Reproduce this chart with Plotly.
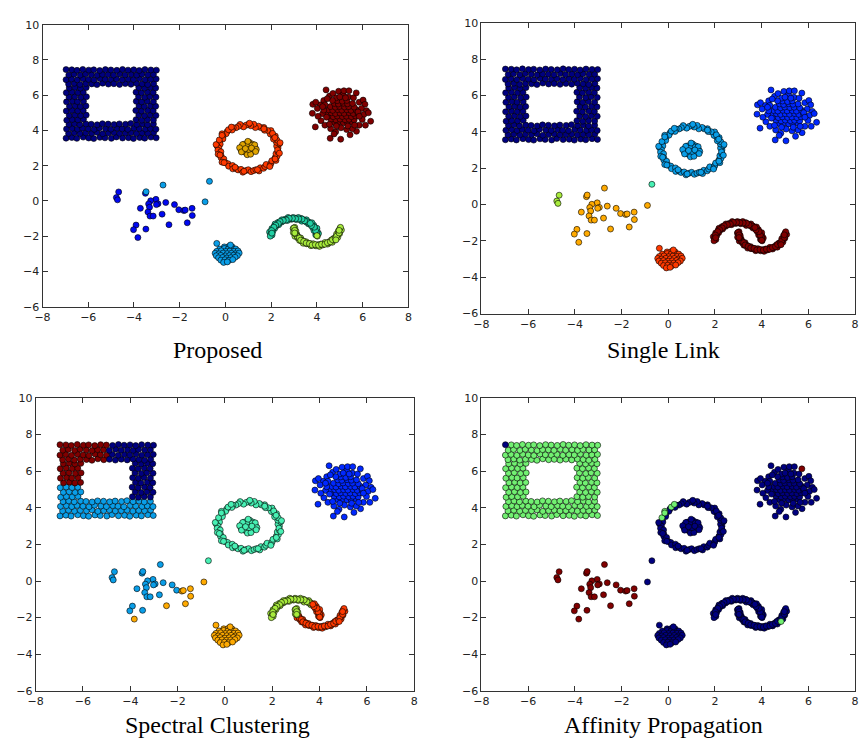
import plotly.graph_objects as go

# ---------------- data ----------------
# hollow square, split in parts (the panels colour the parts differently)
SQ_BOT_X = [-6.97,-6.72,-6.50,-6.22,-5.98,-5.76,-5.49,-5.27,-4.99,-4.77,-4.50,-4.24,-4.02,-3.75,-3.53,-3.26,-3.03,
            -6.86,-6.61,-6.36,-6.11,-5.85,-5.62,-5.37,-5.12,-4.88,-4.63,-4.38,-4.13,-3.89,-3.64,-3.40,-3.14,
            -6.95,-6.70,-6.47,-6.25,-6.00,-5.74,-5.51,-5.24,-5.01,-4.74,-4.52,-4.27,-4.00,-3.77,-3.50,-3.28,-3.04,
            -6.84,-6.60,-6.37,-6.10,-5.87,-5.61,-5.38,-5.13,-4.87,-4.64,-4.37,-4.14,-3.88,-3.63,-3.41,-3.15]
SQ_BOT_Y = [3.56,3.60,3.55,3.62,3.57,3.54,3.61,3.58,3.55,3.63,3.57,3.59,3.54,3.60,3.56,3.62,3.58,
            3.83,3.87,3.82,3.86,3.84,3.89,3.81,3.85,3.88,3.83,3.85,3.87,3.82,3.86,3.84,3.88,
            4.08,4.12,4.07,4.13,4.09,4.06,4.14,4.10,4.07,4.12,4.09,4.06,4.13,4.10,4.08,4.11,4.07,
            4.34,4.38,4.33,4.37,4.35,4.32,4.38,4.36,4.33,4.37,4.35,4.39,4.34,4.37,4.32,4.36]
SQ_LLO_X = [-6.94,-6.70,-6.45,-6.21,-6.83,-6.58,-6.33,-6.09,-6.96,-6.71,-6.46,-6.22]
SQ_LLO_Y = [4.58,4.62,4.60,4.63,4.85,4.88,4.84,4.87,5.10,5.14,5.11,5.13]
SQ_LUP_X = [-6.82,-6.57,-6.34,-6.10,-6.95,-6.69,-6.47,-6.21,-6.84,-6.59,-6.32,-6.08,
            -6.96,-6.71,-6.45,-6.22,-6.83,-6.58,-6.34,-6.09]
SQ_LUP_Y = [5.37,5.40,5.36,5.39,5.62,5.66,5.63,5.65,5.89,5.92,5.88,5.91,
            6.14,6.18,6.15,6.17,6.41,6.44,6.40,6.43]
SQ_R_X = [-3.91,-3.66,-3.41,-3.15,-3.79,-3.54,-3.29,-3.04,-3.92,-3.67,-3.40,-3.16,-3.78,-3.55,-3.28,-3.05,
          -3.90,-3.66,-3.42,-3.15,-3.80,-3.53,-3.30,-3.04,-3.91,-3.67,-3.41,-3.16,-3.79,-3.54,-3.28,-3.05]
SQ_R_Y = [4.61,4.58,4.62,4.59,4.87,4.84,4.88,4.85,5.13,5.10,5.14,5.11,5.39,5.36,5.40,5.37,
          5.65,5.62,5.66,5.63,5.91,5.88,5.92,5.89,6.17,6.14,6.18,6.15,6.43,6.40,6.44,6.41]
SQ_TL_X = [-6.86,-6.61,-6.36,-6.11,-5.85,-5.62,-5.37,-5.12,
           -6.97,-6.73,-6.48,-6.23,-5.99,-5.75,-5.49,-5.26,-5.00,
           -6.85,-6.62,-6.35,-6.12,-5.86,-5.61,-5.38,-5.13,
           -6.72,-6.49,-6.24,-5.98,-5.76,-5.50,-5.25,-5.01]
SQ_TL_Y = [6.63,6.67,6.61,6.66,6.64,6.60,6.68,6.63,
           6.88,6.92,6.87,6.93,6.89,6.86,6.94,6.90,6.88,
           7.15,7.19,7.14,7.20,7.16,7.13,7.18,7.17,
           7.44,7.41,7.46,7.42,7.44,7.40,7.45,7.43]
SQ_TR_X = [-4.88,-4.63,-4.38,-4.13,-3.89,-3.64,-3.40,-3.14,
           -4.76,-4.51,-4.25,-4.02,-3.76,-3.51,-3.27,-3.03,
           -4.89,-4.62,-4.39,-4.12,-3.88,-3.65,-3.39,-3.15,
           -4.75,-4.50,-4.26,-4.01,-3.77,-3.52,-3.26,-3.02]
SQ_TR_Y = [6.65,6.61,6.66,6.62,6.67,6.64,6.60,6.65,
           6.92,6.87,6.91,6.89,6.94,6.88,6.90,6.92,
           7.14,7.20,7.15,7.18,7.14,7.19,7.16,7.17,
           7.41,7.46,7.42,7.44,7.40,7.45,7.43,7.42]
SQ_CORNER_X = [-6.97]
SQ_CORNER_Y = [7.45]

# gaussian blob around (5, 5)
BLOB_X = [4.76,4.94,5.16,5.33,5.56, 4.61,4.83,5.01,5.23,5.41,5.63, 4.49,4.71,4.89,5.11,5.29,5.51,5.69,
          4.44,4.63,4.81,5.01,5.19,5.41,5.59,5.79, 4.51,4.69,4.91,5.09,5.31,5.49,5.71,
          4.59,4.81,4.99,5.21,5.39,5.63, 4.76,4.94,5.16,5.34,5.56, 4.89,5.11,5.31,
          4.15,4.02,3.82,3.80,3.93,4.25,4.18,4.30,4.40,4.55,4.70,4.85,4.95,5.15,5.18,5.40,5.38,5.60,5.85,6.02,
          6.10,5.95,6.17,6.05,5.98,6.35,6.12,5.85,5.73,5.55,5.30,5.05,5.04,4.82,4.58,4.60,4.35,4.42,4.30,4.05,
          3.95,4.75,5.45,6.25,5.80,4.68,
          4.35,4.45,5.85,5.00,5.25,4.55,4.85,5.35,5.65,4.25]
BLOB_Y = [4.44,4.47,4.43,4.46,4.45, 4.63,4.60,4.64,4.61,4.63,4.60, 4.81,4.78,4.82,4.79,4.81,4.78,4.82,
          4.97,5.00,4.96,4.99,4.97,5.00,4.96,4.99, 5.17,5.14,5.18,5.15,5.17,5.14,5.18,
          5.35,5.32,5.36,5.33,5.35,5.32, 5.53,5.50,5.54,5.51,5.53, 5.69,5.66,5.70,
          5.45,5.25,5.48,4.97,4.20,4.95,4.55,5.70,6.30,5.95,6.10,5.85,6.22,6.05,6.25,6.25,5.90,5.85,5.60,5.72,
          5.48,5.25,5.12,4.90,4.62,4.52,4.30,4.30,3.95,4.10,4.05,4.15,3.50,3.92,3.55,4.10,4.30,4.75,5.15,4.80,
          5.60,3.80,3.75,5.00,5.05,5.70,
          5.45,5.80,4.80,5.90,5.85,4.35,4.25,4.25,4.30,5.35]
BLOB_MARK_X = [5.72]
BLOB_MARK_Y = [6.13]

# ring around (1, 3)
RING_X = [2.30,2.24,2.36,2.23,2.25,2.10,2.18,2.06,1.96,1.99,1.84,1.71,1.68,1.54,1.45,1.31,1.24,1.11,1.00,0.89,
          0.79,0.64,0.56,0.46,0.34,0.29,0.07,0.03,-0.11,-0.11,-0.26,-0.23,-0.37,-0.29,-0.33,-0.20,-0.32,-0.19,-0.19,-0.07,
          -0.15,0.00,0.11,0.14,0.31,0.32,0.46,0.55,0.68,0.76,0.89,1.00,1.12,1.23,1.33,1.47,1.52,1.67,1.73,1.78,
          1.96,2.00,2.03,2.21,2.17,2.26,2.21,2.30,2.28,
          2.39,2.06,1.68,1.05,-0.41,-0.24,-0.06,0.42,0.81,1.40,1.94,2.17,2.36,2.16]
RING_Y = [3.00,3.11,3.24,3.33,3.45,3.51,3.68,3.74,3.80,3.99,4.00,4.01,4.17,4.16,4.24,4.16,4.35,4.26,4.34,4.29,
          4.20,4.34,4.22,4.15,4.15,4.02,3.93,3.81,3.64,3.52,3.34,3.22,3.12,3.00,2.88,2.79,2.65,2.57,2.45,2.38,
          2.20,2.16,2.11,1.97,2.01,1.82,1.84,1.76,1.79,1.63,1.72,1.77,1.66,1.72,1.77,1.70,1.88,1.85,1.95,2.07,
          2.04,2.16,2.28,2.30,2.45,2.54,2.68,2.77,2.89,
          3.30,3.83,4.09,4.41,3.20,2.60,2.17,1.91,1.68,1.77,1.95,2.38,2.71,3.59]
RING_NW_X = [0.13,-0.15,-0.27,0.26,-0.15]
RING_NW_Y = [4.04,3.81,3.46,4.19,3.72]

# small dense blob inside the ring
INNER_X = [0.98,1.10,0.85,1.02,0.90,1.15,0.78,1.22,0.95,1.08,0.82,1.25,0.72,1.05,0.88,1.18,0.68,1.30,
           1.00,0.80,1.12,0.92,1.20,0.75,1.28,0.62,1.35,0.95,1.10,0.70,1.02,0.87,1.14,0.98,1.32]
INNER_Y = [3.00,3.05,3.08,3.18,2.88,2.90,2.95,3.10,3.25,2.78,3.22,2.95,3.10,3.32,2.75,3.22,2.90,3.02,
           2.68,2.80,3.15,3.12,2.82,3.20,3.18,3.02,2.92,2.62,2.65,2.78,2.92,2.97,3.00,3.38,2.80]

# small blob around (0, -3)
SMALL_X = [-0.05,0.15,0.30, -0.25,-0.05,0.12,0.28,0.45, -0.38,-0.18,0.02,0.20,0.38,0.55,
           -0.45,-0.28,-0.10,0.08,0.26,0.44,0.60, -0.40,-0.20,0.00,0.18,0.36,0.52,
           -0.30,-0.12,0.06,0.24,0.42, -0.20,-0.02,0.16,0.32, -0.08,0.08, -0.38,0.22]
SMALL_Y = [-2.61,-2.58,-2.62, -2.73,-2.70,-2.74,-2.71,-2.73, -2.86,-2.83,-2.87,-2.84,-2.86,-2.84,
           -2.97,-3.00,-2.96,-2.99,-2.97,-3.00,-2.96, -3.11,-3.09,-3.12,-3.10,-3.08,-3.11,
           -3.23,-3.21,-3.24,-3.22,-3.20, -3.36,-3.34,-3.37,-3.33, -3.49,-3.46, -2.41,-2.50]

# upper moon
MU_X = [3.63,3.63,3.54,3.54,3.44,3.34,3.32,3.24,3.19,3.10,3.04,2.96,2.90,2.83,2.74,2.71,2.61,2.57,2.47,2.46,
        2.38,2.30,2.33,2.17,2.21,2.13,2.16,2.03,2.06,2.07,1.93,1.99,2.04,1.96,
        3.59,3.46,3.35,3.21,3.07,2.93,2.79,2.66,2.53,2.39,2.31,2.20,2.12,2.02,2.03]
MU_Y = [-1.30,-1.19,-1.20,-1.07,-1.09,-1.15,-1.00,-1.05,-0.94,-1.06,-0.98,-0.94,-1.04,-1.02,-0.94,-1.11,-1.04,-1.11,-1.07,-1.20,
        -1.20,-1.22,-1.35,-1.31,-1.42,-1.45,-1.55,-1.57,-1.66,-1.73,-1.77,-1.86,-1.93,-2.00,
        -1.19,-1.13,-1.03,-1.02,-1.01,-0.99,-0.99,-1.08,-1.11,-1.17,-1.29,-1.38,-1.49,-1.68,-1.83]
MU_END_X = [3.95,4.07,3.96,4.01,3.87,4.00,3.88,3.81,3.86,3.76,3.78,4.00,3.94,3.89,3.76,3.71]
MU_END_Y = [-1.93,-1.85,-1.80,-1.71,-1.68,-1.55,-1.53,-1.49,-1.38,-1.36,-1.24,-1.82,-1.69,-1.49,-1.40,-1.27]
MU_TIP_X = [4.02,4.00]
MU_TIP_Y = [-2.00,-1.97]

# lower moon
ML_X = [3.12,3.04,3.16,3.17,3.29,3.24,3.32,3.40,3.40,3.53,3.54,3.63,3.70,3.74,3.84,3.89,3.96,4.03,4.11,4.17,
        4.25,4.31,4.35,4.47,4.51,4.55,4.67,4.64,4.75,4.74,4.83,4.91,4.87,4.86,4.99,4.97,4.94,5.07,5.00,5.03,
        3.13,3.23,3.29,3.42,3.53,3.67,3.79,3.93,4.07,4.20,4.35,4.46,4.59,4.68,4.80,4.86,4.97,4.97]
ML_Y = [-1.89,-2.01,-2.02,-2.11,-2.10,-2.24,-2.25,-2.27,-2.40,-2.32,-2.43,-2.43,-2.42,-2.54,-2.43,-2.51,-2.55,-2.49,-2.58,-2.45,
        -2.50,-2.45,-2.36,-2.45,-2.37,-2.31,-2.35,-2.21,-2.22,-2.12,-2.10,-2.07,-1.97,-1.88,-1.86,-1.78,-1.70,-1.65,-1.57,-1.50,
        -2.00,-2.10,-2.23,-2.30,-2.39,-2.42,-2.50,-2.48,-2.51,-2.46,-2.46,-2.37,-2.32,-2.20,-2.12,-2.00,-1.82,-1.67]
ML_START_X = [3.03,2.96,3.01,3.08,2.97,3.04,2.99,3.03,3.03]
ML_START_Y = [-1.50,-1.57,-1.64,-1.70,-1.80,-1.85,-1.54,-1.67,-1.82]
ML_MARK_X = [4.83]
ML_MARK_Y = [-2.21]

# sparse scattered points
SC_MAIN_X = [-3.50,-3.04,-3.27,-2.95,-3.02,-3.36,-3.32,-2.61,-3.72,-3.39,-3.30,-3.16,-2.77,-2.23,-2.04,-3.91,-4.02,-3.48]
SC_MAIN_Y = [0.43,0.09,0.01,-0.16,-0.21,-0.17,-0.36,-0.09,-0.42,-0.63,-0.86,-0.86,-0.75,-0.21,-0.50,-1.37,-1.63,-1.60]
SC_FAR_X = [-4.67,-4.77,-4.72]
SC_FAR_Y = [0.51,0.19,0.06]
SC_AB_X = [-3.47,-2.73]
SC_AB_Y = [0.52,0.90]
SC_C_X = [-0.89]
SC_C_Y = [-0.05]
SC_D_X = [-0.70]
SC_D_Y = [1.11]
SC_E_X = [-1.82,-1.76,-1.46,-1.45,-1.67,-2.47,-3.83]
SC_E_Y = [-0.55,-0.52,-0.42,-0.83,-1.24,-1.35,-2.08]

PANEL_TITLES = ["Proposed", "Single Link", "Spectral Clustering", "Affinity Propagation"]

GROUPS = {
    "sq_bot": (SQ_BOT_X, SQ_BOT_Y), "sq_llo": (SQ_LLO_X, SQ_LLO_Y), "sq_lup": (SQ_LUP_X, SQ_LUP_Y),
    "sq_r": (SQ_R_X, SQ_R_Y), "sq_tl": (SQ_TL_X, SQ_TL_Y), "sq_tr": (SQ_TR_X, SQ_TR_Y),
    "sq_corner": (SQ_CORNER_X, SQ_CORNER_Y),
    "blob": (BLOB_X, BLOB_Y), "blob_mark": (BLOB_MARK_X, BLOB_MARK_Y),
    "ring": (RING_X, RING_Y), "ring_nw": (RING_NW_X, RING_NW_Y),
    "inner": (INNER_X, INNER_Y), "small": (SMALL_X, SMALL_Y),
    "mu": (MU_X, MU_Y), "mu_end": (MU_END_X, MU_END_Y), "mu_tip": (MU_TIP_X, MU_TIP_Y),
    "ml": (ML_X, ML_Y), "ml_start": (ML_START_X, ML_START_Y), "ml_mark": (ML_MARK_X, ML_MARK_Y),
    "sc_main": (SC_MAIN_X, SC_MAIN_Y), "sc_far": (SC_FAR_X, SC_FAR_Y), "sc_ab": (SC_AB_X, SC_AB_Y),
    "sc_c": (SC_C_X, SC_C_Y), "sc_d": (SC_D_X, SC_D_Y), "sc_e": (SC_E_X, SC_E_Y),
}

# ---------------- styles ----------------
NAVY = "#00007F"
BLUE = "#0008F0"
BLUE2 = "#0028FF"
LBLUE = "#0A9EE8"
TEAL = "#22D0A4"
AQUA = "#48F0B4"
YGREEN = "#A8EC3C"
LGREEN = "#72F072"
ORANGE = "#FFAA00"
MUSTARD = "#E0A400"
REDOR = "#FF3A00"
DRED = "#800000"

SQ = ["sq_bot", "sq_llo", "sq_lup", "sq_r", "sq_tl", "sq_tr", "sq_corner"]


def cmap(base, **over):
    d = dict(base)
    d.update(over)
    return d


P_COL = cmap({g: NAVY for g in SQ}, blob=DRED, blob_mark=DRED, ring=REDOR, ring_nw=REDOR, inner=MUSTARD,
             small=LBLUE, mu=TEAL, mu_end=TEAL, mu_tip=YGREEN, ml=YGREEN, ml_start=YGREEN, ml_mark=YGREEN,
             sc_main=BLUE, sc_far=BLUE, sc_e=BLUE, sc_ab=LBLUE, sc_c=LBLUE, sc_d=LBLUE)
SL_COL = cmap({g: NAVY for g in SQ}, blob=BLUE2, blob_mark=BLUE2, ring=LBLUE, ring_nw=LBLUE, inner=LBLUE,
              small=REDOR, mu=DRED, mu_end=DRED, mu_tip=DRED, ml=DRED, ml_start=DRED, ml_mark=DRED,
              sc_main=ORANGE, sc_ab=ORANGE, sc_c=ORANGE, sc_e=ORANGE, sc_far=YGREEN, sc_d=AQUA)
SC_COL = dict(sq_bot=LBLUE, sq_llo=LBLUE, sq_lup=DRED, sq_tl=DRED, sq_corner=DRED, sq_tr=NAVY, sq_r=NAVY,
              blob=BLUE2, blob_mark=BLUE2, ring=AQUA, ring_nw=AQUA, inner=AQUA, small=ORANGE,
              mu=YGREEN, mu_end=REDOR, mu_tip=REDOR, ml=REDOR, ml_mark=REDOR, ml_start=YGREEN,
              sc_main=LBLUE, sc_far=LBLUE, sc_ab=LBLUE, sc_c=ORANGE, sc_e=ORANGE, sc_d=AQUA)
AP_COL = cmap({g: LGREEN for g in SQ}, sq_corner=NAVY, blob=NAVY, blob_mark=DRED, ring=NAVY, ring_nw=LGREEN,
              inner=NAVY, small=NAVY, mu=NAVY, mu_end=NAVY, mu_tip=NAVY, ml=NAVY, ml_start=NAVY, ml_mark=LGREEN,
              sc_main=DRED, sc_far=DRED, sc_ab=DRED, sc_e=DRED, sc_c=NAVY, sc_d=NAVY)
PANEL_COLORS = [P_COL, SL_COL, SC_COL, AP_COL]

W, H = 867, 745
# plot-area boxes in pixels: (left, right, top, bottom)
BOXES = [(35, 406, 19, 306), (480, 859, 17, 313), (28, 412, 399, 697), (480, 859, 399, 697)]
TITLE_POS = [(212, 350), (665, 350), (212, 732), (665, 732)]

fig = go.Figure()
layout = dict(width=W, height=H, margin=dict(l=0, r=0, t=0, b=0), paper_bgcolor="white",
              plot_bgcolor="white", showlegend=False, annotations=[])

axis_common = dict(dtick=2, ticks="inside", ticklen=5, tickwidth=1, tickcolor="#333",
                   showline=True, linecolor="#333", linewidth=1, mirror="ticks",
                   showgrid=False, zeroline=False, fixedrange=True, ticklabeloverflow="allow",
                   tickfont=dict(family="DejaVu Sans", size=11, color="#222"))

for i, (title, cols) in enumerate(zip(PANEL_TITLES, PANEL_COLORS)):
    n = i + 1
    xa = "x" if n == 1 else f"x{n}"
    ya = "y" if n == 1 else f"y{n}"
    l, r, t, b = BOXES[i]
    layout[f"xaxis{'' if n == 1 else n}"] = dict(axis_common, range=[-8, 8], tick0=-8,
                                                 domain=[l / W, r / W], anchor=ya)
    layout[f"yaxis{'' if n == 1 else n}"] = dict(axis_common, range=[-6, 10], tick0=-6,
                                                 domain=[1 - b / H, 1 - t / H], anchor=xa)
    for g, (gx, gy) in GROUPS.items():
        fig.add_trace(go.Scatter(x=gx, y=gy, mode="markers", xaxis=xa, yaxis=ya, hoverinfo="skip",
                                 marker=dict(size=6, color=cols[g], line=dict(width=0.6, color="black"))))
    tx, ty = TITLE_POS[i]
    layout["annotations"].append(dict(text=title, x=tx / W, y=1 - ty / H, xref="paper", yref="paper",
                                      xanchor="center", yanchor="middle", showarrow=False,
                                      font=dict(family="Liberation Serif", size=24, color="black")))

fig.update_layout(**layout)
fig.write_html("out.html", config={"displayModeBar": False},
               post_script="document.body.style.margin='0';document.body.style.padding='0';")
